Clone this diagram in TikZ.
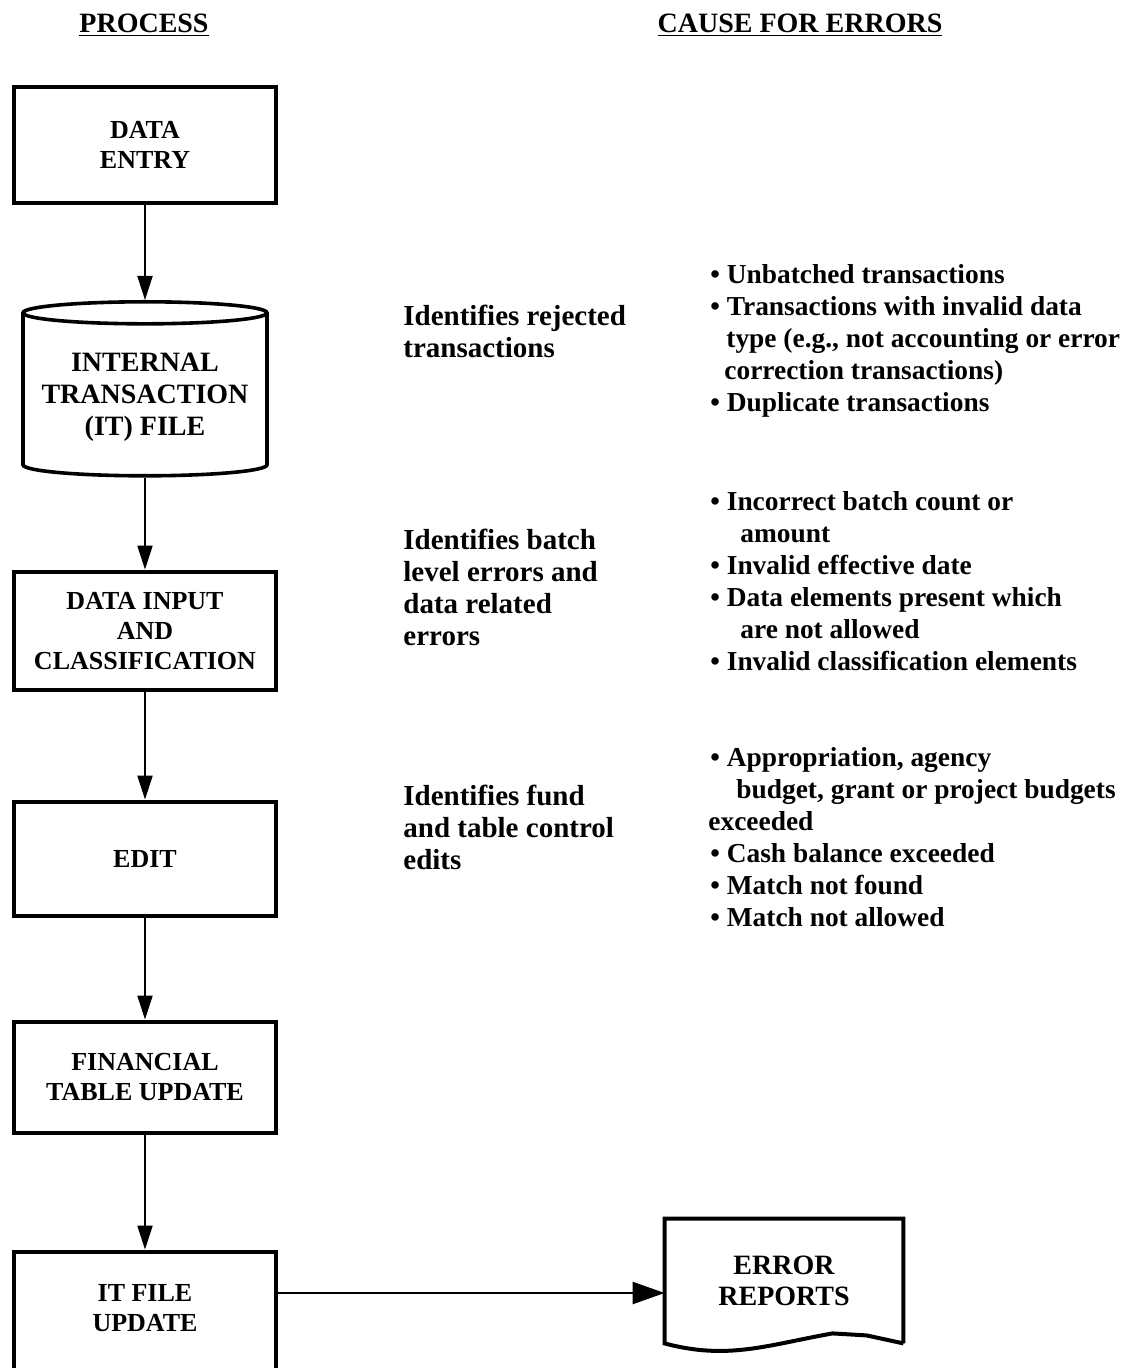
\documentclass[tikz,border=0pt]{standalone}
\usepackage{fontspec}
\setmainfont{Liberation Serif}
\usepackage{tikz}
\usetikzlibrary{arrows.meta,positioning,shapes.geometric}

\begin{document}
\begin{tikzpicture}[
    x=1pt, y=1pt,
    font=\bfseries\fontsize{14.5}{16}\selectfont,
    >={Triangle[length=12pt,width=7.5pt]},
    stepbox/.style={draw, line width=2pt, minimum width=131pt, align=center, font=\bfseries\fontsize{13}{15}\selectfont},
    note/.style={anchor=west, inner sep=0pt, align=left},
    cause/.style={note, font=\bfseries\fontsize{13.7}{16}\selectfont},
    flow/.style={->, line width=1pt}
]
    \useasboundingbox (0,0) rectangle (564,-684);

    % Headings
    \node (hproc) at (72,-12.5) {\fontsize{14}{16}\selectfont\underline{PROCESS}};
    \node (hcause) at (400,-12.5) {\fontsize{14}{16}\selectfont\underline{CAUSE FOR ERRORS}};

    % Nodes
    \node[stepbox, minimum height=58pt] (entry) at (72.5,-72.5) {DATA\\ENTRY};
    \node[stepbox, cylinder, shape border rotate=90, aspect=0.1, minimum width=122pt, minimum height=87pt, line width=1.8pt,
        font=\bfseries\fontsize{14}{16}\selectfont, below=47.5pt of entry] (itfile) {INTERNAL\\TRANSACTION\\(IT) FILE};
    \node[stepbox, minimum height=59pt, below=46pt of itfile] (input) {DATA INPUT\\AND\\CLASSIFICATION};
    \node[stepbox, minimum height=57pt, below=54pt of input] (edit) {EDIT};
    \node[stepbox, minimum height=55.5pt, below=51pt of edit] (fin) {FINANCIAL\\TABLE UPDATE};
    \node[stepbox, minimum height=68pt, text depth=12pt, below=57.5pt of fin] (upd) {IT FILE\\UPDATE};
    \node[minimum width=119pt, minimum height=62pt, align=center, font=\bfseries\fontsize{14}{15.5}\selectfont] (report) at (392,-640.5) {ERROR\\REPORTS};
    \draw[line width=2pt, line join=miter] (report.south east) -- (report.north east) -- (report.north west) -- (report.south west)
        to[out=-15,in=190] ([xshift=84pt,yshift=5pt]report.south west) -- ([xshift=101pt,yshift=4pt]report.south west) -- (report.south east);

    % Notes
    \node[note] (n1) at (201.5,-165.5) {Identifies rejected\\transactions};
    \node[note] (n2) at (201.5,-293.75) {Identifies batch\\level errors and\\data related\\errors};
    \node[note] (n3) at (201.5,-413.5) {Identifies fund\\and table control\\edits};

    % Causes
    \node[cause] (c1) at (355,-170.5) {\textbullet\ Unbatched transactions\\
        \textbullet\ Transactions with invalid data\\
        \hspace{8pt}type (e.g., not accounting or error\\
        \hspace{7pt}correction transactions)\\
        \textbullet\ Duplicate transactions};
    \node[cause] (c2) at (355,-290.5) {\textbullet\ Incorrect batch count or\\
        \hspace{15pt}amount\\
        \textbullet\ Invalid effective date\\
        \textbullet\ Data elements present which\\
        \hspace{15pt}are not allowed\\
        \textbullet\ Invalid classification elements};
    \node[cause] (c3) at (355,-418.5) {\textbullet\ Appropriation, agency\\
        \hspace{13pt}budget, grant or project budgets\\
        \hspace{-1pt}exceeded\\
        \textbullet\ Cash balance exceeded\\
        \textbullet\ Match not found\\
        \textbullet\ Match not allowed};

    % Arrows
    \coordinate (repin) at ([yshift=-6pt]report.west);
    \draw[flow] (entry) -- (itfile);
    \draw[flow] (itfile) -- (input);
    \draw[flow] (input) -- (edit);
    \draw[flow] (edit) -- (fin);
    \draw[flow] (fin) -- (upd);
    \draw[->, line width=1.2pt, >={Triangle[length=16pt,width=11pt]}] (upd.east |- repin) -- (repin);
\end{tikzpicture}
\end{document}
